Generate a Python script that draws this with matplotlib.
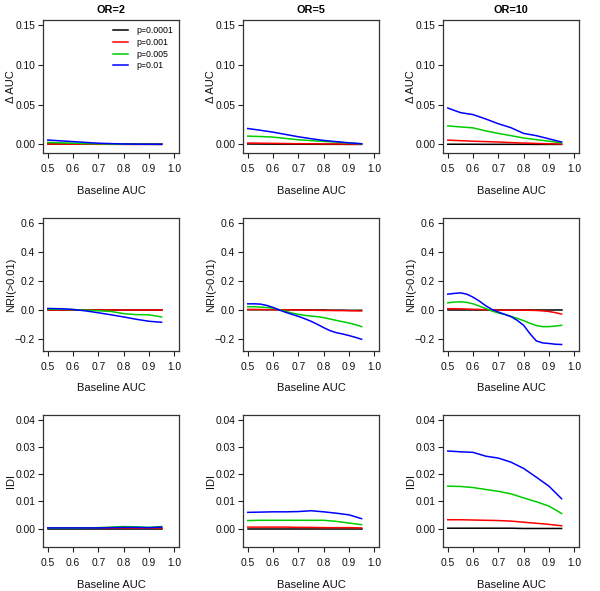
import matplotlib
matplotlib.use("Agg")
import matplotlib.pyplot as plt

plt.rcParams['font.family'] = ['Liberation Sans', 'DejaVu Sans']

x = [0.50, 0.55, 0.60, 0.65, 0.70, 0.75, 0.80, 0.85, 0.90, 0.95]
x_fine = [0.500, 0.525, 0.550, 0.575, 0.600, 0.625, 0.650, 0.675, 0.700, 0.725,
          0.750, 0.775, 0.800, 0.825, 0.850, 0.875, 0.900, 0.925, 0.950]

series_labels = ["p=0.0001", "p=0.001", "p=0.005", "p=0.01"]
series_colors = ["#000000", "#FF0000", "#00CD00", "#0000FF"]
col_titles = ["OR=2", "OR=5", "OR=10"]
row_ylabels = ["\u0394 AUC", "NRI(>0.01)", "IDI"]

# Delta AUC
dauc_or2 = {
    "p=0.0001": [0, 0, 0, 0, 0, 0, 0, 0, 0, 0],
    "p=0.001": [0.0005, 0.0004, 0.0003, 0.0002, 0.0001, 0.0001, 0, 0, 0, 0],
    "p=0.005": [0.0025, 0.002, 0.0015, 0.001, 0.0007, 0.0004, 0.0002, 0.0001, 0.0001, 0],
    "p=0.01": [0.0055, 0.0045, 0.0035, 0.0025, 0.0015, 0.001, 0.0005, 0.0003, 0.0002, 0.0001],
}
dauc_or5 = {
    "p=0.0001": [0.0005, 0.0004, 0.0003, 0.0003, 0.0002, 0.0002, 0.0001, 0.0001, 0, 0],
    "p=0.001": [0.0017, 0.0015, 0.0013, 0.0011, 0.0009, 0.0008, 0.0006, 0.0005, 0.0004, 0.0003],
    "p=0.005": [0.0104, 0.0099, 0.0092, 0.0075, 0.0058, 0.0048, 0.0038, 0.0028, 0.0017, 0.0008],
    "p=0.01": [0.020, 0.0178, 0.0154, 0.0125, 0.0096, 0.0072, 0.005, 0.0035, 0.002, 0.0008],
}
dauc_or10 = {
    "p=0.0001": [0.0002, 0.0002, 0.0002, 0.0001, 0.0001, 0.0001, 0.0001, 0, 0, 0],
    "p=0.001": [0.0054, 0.0047, 0.004, 0.0035, 0.003, 0.0023, 0.0017, 0.0012, 0.0008, 0.0004],
    "p=0.005": [0.0233, 0.022, 0.0208, 0.017, 0.0138, 0.011, 0.008, 0.006, 0.004, 0.002],
    "p=0.01": [0.0458, 0.040, 0.0375, 0.032, 0.026, 0.021, 0.0138, 0.011, 0.007, 0.003],
}

# NRI(>0.01)
nri_or2 = {
    "p=0.0001": [0, 0, 0, 0, 0, 0, 0, 0, 0, 0],
    "p=0.001": [0.001, 0.001, 0.001, 0.001, 0.001, 0.001, 0.001, 0.001, 0.001, 0.001],
    "p=0.005": [0.004, 0.003, 0.001, -0.003, -0.007, -0.012, -0.027, -0.034, -0.035, -0.05],
    "p=0.01": [0.009, 0.007, 0.002, -0.008, -0.021, -0.035, -0.05, -0.066, -0.08, -0.087],
}
nri_or5 = {
    "p=0.0001": [0, 0, 0, 0, 0, 0, -0.001, -0.001, -0.001, -0.001,
                 -0.002, -0.002, -0.002, -0.003, -0.003, -0.003, -0.004, -0.004, -0.004],
    "p=0.001": [0.002, 0.002, 0.001, 0.001, 0.0, 0.0, -0.001, -0.001, -0.002, -0.002,
                -0.003, -0.004, -0.005, -0.005, -0.006, -0.006, -0.007, -0.008, -0.008],
    "p=0.005": [0.021, 0.021, 0.018, 0.016, 0.011, 0.0, -0.011, -0.023, -0.032, -0.039,
                -0.044, -0.048, -0.055, -0.064, -0.074, -0.083, -0.092, -0.103, -0.117],
    "p=0.01": [0.041, 0.041, 0.039, 0.030, 0.016, -0.002, -0.018, -0.032, -0.046, -0.062,
               -0.080, -0.101, -0.124, -0.145, -0.159, -0.168, -0.179, -0.191, -0.205],
}
nri_or10 = {
    "p=0.0001": [0, 0, 0, 0, 0, 0, 0, 0, 0, 0, 0, 0, 0, 0, 0, 0, 0, 0, 0],
    "p=0.001": [0.007, 0.007, 0.006, 0.005, 0.003, 0.002, 0.0, -0.001, -0.003, -0.003,
                -0.003, -0.003, -0.003, -0.004, -0.005, -0.008, -0.012, -0.020, -0.030],
    "p=0.005": [0.048, 0.053, 0.055, 0.051, 0.041, 0.025, 0.009, -0.009, -0.023, -0.032,
                -0.046, -0.060, -0.076, -0.094, -0.110, -0.117, -0.117, -0.113, -0.108],
    "p=0.01": [0.108, 0.113, 0.117, 0.108, 0.087, 0.060, 0.028, 0.002, -0.016, -0.032,
               -0.048, -0.074, -0.108, -0.166, -0.216, -0.230, -0.234, -0.239, -0.241],
}

# IDI
idi_or2 = {
    "p=0.0001": [0, 0, 0, 0, 0, 0, 0, 0, 0, 0],
    "p=0.001": [0.0001, 0.0001, 0.0001, 0.0001, 0.0001, 0.0001, 0.0001, 0.0001, 0.0001, 0.0001],
    "p=0.005": [0.0002, 0.0002, 0.0002, 0.0003, 0.0004, 0.0006, 0.0008, 0.0007, 0.0005, 0.0008],
    "p=0.01": [0.0003, 0.0003, 0.0003, 0.0003, 0.0003, 0.0004, 0.0005, 0.0005, 0.0004, 0.0006],
}
idi_or5 = {
    "p=0.0001": [0, 0, 0, 0, 0, 0, 0, 0, 0, 0],
    "p=0.001": [0.0006, 0.0006, 0.0006, 0.0006, 0.0005, 0.0005, 0.0004, 0.0004, 0.0004, 0.0003],
    "p=0.005": [0.003, 0.0031, 0.0031, 0.0031, 0.0031, 0.0031, 0.0031, 0.0027, 0.0021, 0.0015],
    "p=0.01": [0.006, 0.0061, 0.0062, 0.0062, 0.0063, 0.0066, 0.0062, 0.0057, 0.0051, 0.0037],
}
idi_or10 = {
    "p=0.0001": [0.0002, 0.0002, 0.0002, 0.0002, 0.0002, 0.0002, 0.0001, 0.0001, 0.0001, 0.0001],
    "p=0.001": [0.0033, 0.0033, 0.0032, 0.0031, 0.003, 0.0028, 0.0024, 0.002, 0.0016, 0.0011],
    "p=0.005": [0.0156, 0.0155, 0.0151, 0.0144, 0.0137, 0.0128, 0.0113, 0.0099, 0.0083, 0.0056],
    "p=0.01": [0.0285, 0.0282, 0.028, 0.0266, 0.0259, 0.0244, 0.0221, 0.0189, 0.0156, 0.011],
}

grid = [
    [(x, dauc_or2), (x, dauc_or5), (x, dauc_or10)],
    [(x, nri_or2), (x_fine, nri_or5), (x_fine, nri_or10)],
    [(x, idi_or2), (x, idi_or5), (x, idi_or10)],
]
row_ylims = [(-0.005, 0.15), (-0.25, 0.6), (-0.005, 0.04)]
row_yticks = [[0.00, 0.05, 0.10, 0.15], [-0.2, 0.0, 0.2, 0.4, 0.6], [0.00, 0.01, 0.02, 0.03, 0.04]]
row_yfmt = ["{:.2f}", "{:.1f}", "{:.2f}"]
xticks = [0.5, 0.6, 0.7, 0.8, 0.9, 1.0]

W, H = 600, 591
fig = plt.figure(figsize=(6, 5.91), dpi=100)

col_left = [42.7, 242.7, 442.7]
ax_w = 136.6
row_top = [20.3, 218.3, 414.7]
row_bot = [153.3, 350.7, 547.3]


def expand(lo, hi, f=0.04):
    d = (hi - lo) * f
    return lo - d, hi + d


def fmt(f, t):
    s = f.format(t)
    if s.startswith("-") and float(s) == 0:
        s = s[1:]
    return s.replace("-", "\u2212")


for r in range(3):
    for c in range(3):
        ax_h = row_bot[r] - row_top[r]
        ax = fig.add_axes([col_left[c] / W, 1 - row_bot[r] / H, ax_w / W, ax_h / H])
        xs, data = grid[r][c]
        for lab, col in zip(series_labels, series_colors):
            ax.plot(xs, data[lab], color=col, lw=1.1, label=lab)
        ax.set_xlim(*expand(0.5, 1.0))
        ax.set_ylim(*expand(*row_ylims[r]))
        ax.set_xticks(xticks)
        ax.set_xticklabels([f"{t:.1f}" for t in xticks])
        ax.set_yticks(row_yticks[r])
        ax.set_yticklabels([fmt(row_yfmt[r], t) for t in row_yticks[r]])
        ax.tick_params(axis='both', direction='out', length=3.4, width=0.8,
                       labelsize=7.4, colors='#222222', labelcolor='#111111')
        ax.tick_params(axis='x', pad=4.5)
        ax.tick_params(axis='y', pad=2.0)
        for s in ax.spines.values():
            s.set_linewidth(0.9)
            s.set_color('#333333')
        ax.set_xlabel("Baseline AUC", fontsize=8, color='#111111')
        ax.xaxis.set_label_coords(0.5, -(186.0 - 153.3) / ax_h)
        ax.set_ylabel(row_ylabels[r], fontsize=8, color='#111111')
        ax.yaxis.set_label_coords(-(42.7 - 16.5) / ax_w, 0.5)
        if r == 0:
            ax.set_title(col_titles[c], fontsize=7.8, fontweight='bold', pad=5.5)
        if r == 0 and c == 0:
            ax.legend(loc='upper right', frameon=False, fontsize=6.3, handlelength=1.75,
                      labelspacing=0.32, borderaxespad=0.35, handletextpad=1.0,
                      borderpad=0.3)

fig.savefig("out.png", dpi=100)
